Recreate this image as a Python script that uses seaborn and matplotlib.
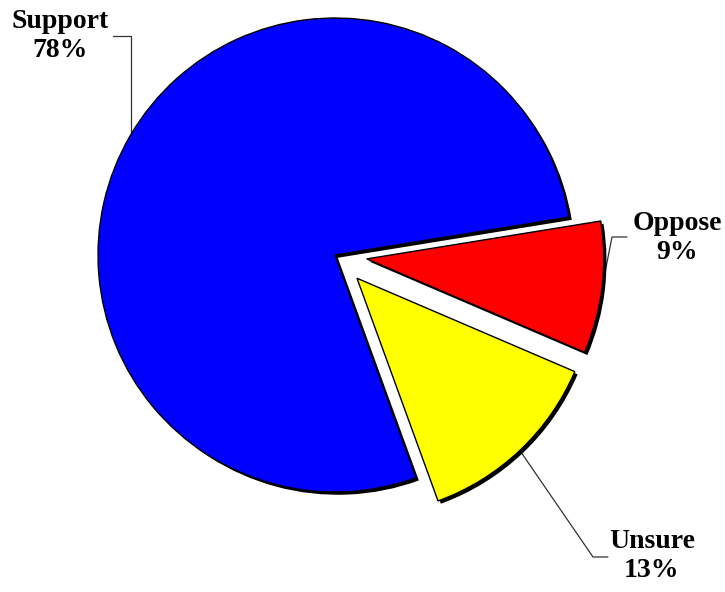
import numpy as np
import matplotlib
matplotlib.use("Agg")
import matplotlib.pyplot as plt
import matplotlib.patheffects as pe
import seaborn as sns

# Data
labels = ["Support", "Unsure", "Oppose"]
shares = [78, 13, 9]
colors = ["#0000FF", "#FFFF00", "#FF0000"]
explode = [0, 0.135, 0.135]  # fraction of the radius

# Layout (pixel coordinates, y measured from bottom)
W, H = 725, 592
R = 237
text_pos = {"Support": (60, 556), "Oppose": (677, 354), "Unsure": (652, 36)}
elbow = {"Support": [(113, 556)], "Oppose": [(612, 355), (627, 355)], "Unsure": [(593, 35), (608, 35)]}

sns.set_style("white")
plt.rcParams["font.family"] = ["Liberation Serif", "DejaVu Serif"]

fig = plt.figure(figsize=(W / 100, H / 100), dpi=100)
ax = fig.add_axes([0, 0, 1, 1])

# matplotlib's explode is in data units, so scale it by the radius
shadow = [pe.SimplePatchShadow(offset=(2, -2), shadow_rgbFace="black", alpha=1), pe.Normal()]
wedges, _ = ax.pie(shares, colors=colors, explode=[e * R for e in explode], startangle=9.2,
                   radius=R, center=(335, 337),
                   wedgeprops=dict(edgecolor="black", linewidth=1, path_effects=shadow))

ax.set_xlim(0, W)
ax.set_ylim(0, H)
ax.set_aspect("equal")
ax.axis("off")

# Labels with leader lines anchored on each wedge's arc
for w, lab, val in zip(wedges, labels, shares):
    mid = np.deg2rad((w.theta1 + w.theta2) / 2)
    cx, cy = w.center
    ax_, ay_ = cx + w.r * np.cos(mid), cy + w.r * np.sin(mid)
    if lab == "Support":
        xs = [ax_, ax_, elbow[lab][0][0]]
        ys = [ay_, elbow[lab][0][1], elbow[lab][0][1]]
    else:
        xs = [ax_] + [p[0] for p in elbow[lab]]
        ys = [ay_] + [p[1] for p in elbow[lab]]
    ax.plot(xs, ys, color="#333333", lw=0.9, zorder=0)
    tx, ty = text_pos[lab]
    ax.text(tx, ty, f"{lab}\n{val}%", ha="center", va="center", color="black",
            fontsize=20, fontweight="bold", linespacing=1.2)

fig.savefig("out.png", dpi=100)
